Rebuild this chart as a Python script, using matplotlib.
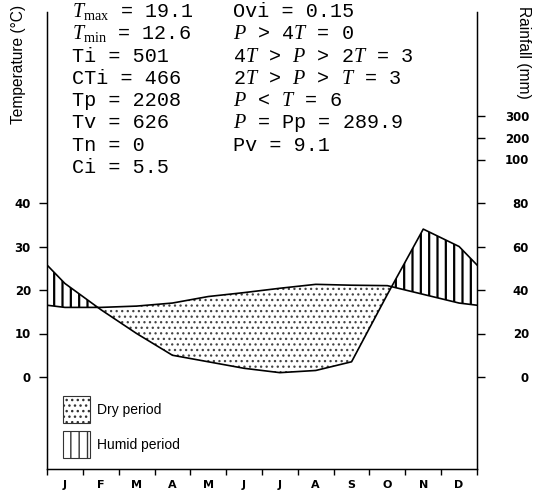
import numpy as np
import matplotlib
matplotlib.use('Agg')
import matplotlib.pyplot as plt
from matplotlib.patches import Patch

# ---------------- data ----------------
months = ['J', 'F', 'M', 'A', 'M', 'J', 'J', 'A', 'S', 'O', 'N', 'D']
temp_c = [16.0, 16.0, 16.3, 17.0, 18.5, 19.4, 20.4, 21.3, 21.1, 21.0, 19.0, 17.0]
rain_mm = [43, 31, 20, 10, 7, 4, 2, 3, 7, 38, 68, 60]
temp_ticks = [0, 10, 20, 30, 40]
rain_ticks = [0, 20, 40, 60, 80, 100, 200, 300]
stats_left = [r'$T_{\mathrm{max}}$ = 19.1', r'$T_{\mathrm{min}}$ = 12.6',
              'Ti = 501', 'CTi = 466', 'Tp = 2208', 'Tv = 626', 'Tn = 0',
              'Ci = 5.5']
stats_right = ['Ovi = 0.15', r'$P$ > 4$T$ = 0', r'4$T$ > $P$ > 2$T$ = 3',
               r'2$T$ > $P$ > $T$ = 3', r'$P$ < $T$ = 6',
               r'$P$ = Pp = 289.9', 'Pv = 9.1']

plt.rcParams['mathtext.fontset'] = 'custom'
plt.rcParams['mathtext.it'] = 'Liberation Serif:italic'
plt.rcParams['mathtext.rm'] = 'Liberation Serif'


def rain_to_temp_scale(r):
    r = np.asarray(r, dtype=float)
    return np.where(r <= 100, r / 2.0, 50 + (r - 100) / 20.0)


W, H = 537, 493
fig = plt.figure(figsize=(W / 100, H / 100), dpi=100)
ax = fig.add_axes([47 / W, 24 / H, 430 / W, 457 / H])

# wrap-around edges (Walter-Lieth convention)
x = np.concatenate([[0], np.arange(12) + 0.5, [12]])
t = np.array(temp_c)
r = rain_to_temp_scale(rain_mm)
t_ext = np.concatenate([[(t[-1] + t[0]) / 2], t, [(t[-1] + t[0]) / 2]])
r_ext = np.concatenate([[(r[-1] + r[0]) / 2], r, [(r[-1] + r[0]) / 2]])

with plt.rc_context({'hatch.linewidth': 0.9}):
    ax.fill_between(x, r_ext, t_ext, where=r_ext <= t_ext, interpolate=True,
                    facecolor='none', edgecolor='#444444', hatch='...',
                    linewidth=0)
with plt.rc_context({'hatch.linewidth': 1.6}):
    ax.fill_between(x, r_ext, t_ext, where=r_ext >= t_ext, interpolate=True,
                    facecolor='none', edgecolor='black', hatch='||',
                    linewidth=0)

ax.plot(x, t_ext, color='black', lw=1.2)
ax.plot(x, r_ext, color='black', lw=1.2)

ymin = (377 - 469) / 4.35
ymax = (377 - 12) / 4.35
ax.set_xlim(0, 12)
ax.set_ylim(ymin, ymax)

ax.spines['top'].set_visible(False)
for s in ['left', 'right', 'bottom']:
    ax.spines[s].set_linewidth(1.0)

tick_font = dict(family='DejaVu Sans', weight='bold', size=8.5)

ax.set_xticks(np.arange(13))
ax.set_xticklabels([])
ax.set_xticks(np.arange(12) + 0.5, minor=True)
ax.set_xticklabels(months, minor=True, fontdict=dict(tick_font, size=8))
ax.tick_params(axis='x', which='major', length=4, width=1, direction='out')
ax.tick_params(axis='x', which='minor', length=0, pad=8)

ax.set_yticks(temp_ticks)
ax.set_yticklabels([str(v) for v in temp_ticks], fontdict=tick_font)
ax.tick_params(axis='y', which='major', length=5.8, width=1, direction='out', pad=5.8)

ax2 = ax.twinx()
ax2.set_ylim(ymin, ymax)
ax2.spines['top'].set_visible(False)
ax2.set_yticks(rain_to_temp_scale(rain_ticks))
ax2.set_yticklabels([str(v) for v in rain_ticks], fontdict=tick_font)
ax2.tick_params(axis='y', length=5.8, width=1, direction='out', pad=31.7)
for lab in ax2.get_yticklabels():
    lab.set_horizontalalignment('right')

fig.text(19 / W, 1 - 64 / H, 'Temperature (°C)', rotation=90, ha='center',
         va='center', family='Liberation Sans', fontsize=11.2)
fig.text(524 / W, 1 - 52 / H, 'Rainfall (mm)', rotation=270, ha='center',
         va='center', family='Liberation Sans', fontsize=11.2)

base0 = 17
step = 22.3
for i, s in enumerate(stats_left):
    fig.text(72 / W, 1 - (base0 + step * i) / H, s, family='Liberation Mono',
             fontsize=14.5, ha='left', va='baseline')
for i, s in enumerate(stats_right):
    fig.text(233 / W, 1 - (base0 + step * i) / H, s, family='Liberation Mono',
             fontsize=14.5, ha='left', va='baseline')

handles = [Patch(facecolor='white', edgecolor='#333333', hatch='...', lw=0.8,
                 label='Dry period'),
           Patch(facecolor='white', edgecolor='#333333', hatch='||', lw=0.8,
                 label='Humid period')]
ax.legend(handles=handles, loc='upper left',
          bbox_to_anchor=(63 / W, 1 - 396 / H), bbox_transform=fig.transFigure,
          frameon=False, borderpad=0, borderaxespad=0,
          prop=dict(family='Liberation Sans', size=10),
          handlelength=1.95, handleheight=2.6, handletextpad=0.5,
          labelspacing=0.6)

fig.savefig('out.png', dpi=100)
